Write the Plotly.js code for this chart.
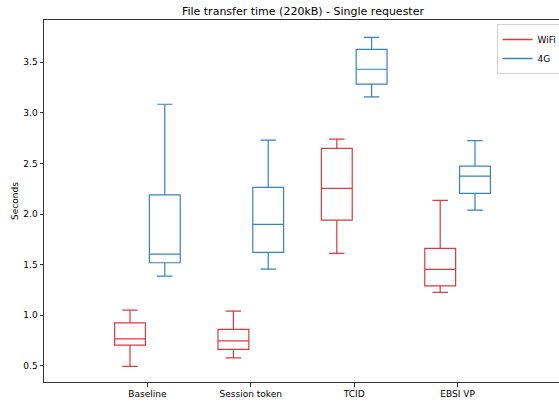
<!DOCTYPE html>
<html>
<head>
<meta charset="utf-8">
<script src="https://cdn.plot.ly/plotly-3.0.1.min.js"></script>
<style>html,body{margin:0;padding:0;overflow:hidden;background:#fff;}</style>
</head>
<body>
<div id="chart"></div>
<script>
const categories = ["Baseline", "Session token", "TCID", "EBSI VP"];

const wifiLower  = [0.493, 0.578, 1.610, 1.225];
const wifiQ1     = [0.704, 0.661, 1.940, 1.290];
const wifiMedian = [0.766, 0.746, 2.253, 1.452];
const wifiQ3     = [0.924, 0.859, 2.649, 1.660];
const wifiUpper  = [1.050, 1.040, 2.741, 2.135];

const g4Lower  = [1.386, 1.455, 3.157, 2.039];
const g4Q1     = [1.518, 1.621, 3.285, 2.204];
const g4Median = [1.604, 1.898, 3.431, 2.375];
const g4Q3     = [2.190, 2.264, 3.628, 2.474];
const g4Upper  = [3.085, 2.731, 3.747, 2.725];

const yTicks = [0.5, 1.0, 1.5, 2.0, 2.5, 3.0, 3.5];

const RED = "#e0383d";
const BLUE = "#3583c4";

const traces = [
  {type: "box", name: "WiFi", x: categories, q1: wifiQ1, median: wifiMedian, q3: wifiQ3,
   lowerfence: wifiLower, upperfence: wifiUpper, boxpoints: false, whiskerwidth: 0.5,
   line: {color: RED, width: 1.2}, fillcolor: "rgba(0,0,0,0)", showlegend: false, hoverinfo: "skip"},
  {type: "box", name: "4G", x: categories, q1: g4Q1, median: g4Median, q3: g4Q3,
   lowerfence: g4Lower, upperfence: g4Upper, boxpoints: false, whiskerwidth: 0.5,
   line: {color: BLUE, width: 1.2}, fillcolor: "rgba(0,0,0,0)", showlegend: false, hoverinfo: "skip"},
  {type: "scatter", mode: "lines", name: "WiFi", x: [null], y: [null], line: {color: RED, width: 1.5}},
  {type: "scatter", mode: "lines", name: "4G", x: [null], y: [null], line: {color: BLUE, width: 1.5}}
];

const layout = {
  width: 570, height: 403,
  margin: {l: 44, r: 7, t: 20, b: 21},
  paper_bgcolor: "#fff", plot_bgcolor: "#fff",
  font: {family: "DejaVu Sans", size: 9, color: "#000"},
  title: {text: "File transfer time (220kB) - Single requester", font: {size: 11, color: "#000"},
          x: 0.5315, xanchor: "center", y: 0.982, yanchor: "top", yref: "container"},
  boxmode: "group", boxgap: 0.327, boxgroupgap: 0.113,
  showlegend: true,
  legend: {x: 1.003, xanchor: "right", y: 0.989, yanchor: "top",
           bgcolor: "#fff", bordercolor: "#d0d0d0", borderwidth: 1,
           font: {size: 9}, itemwidth: 30, tracegroupgap: 0},
  xaxis: {type: "category", categoryorder: "array", categoryarray: categories,
          range: [-1, 4], showline: true, mirror: true, linecolor: "#333", linewidth: 1,
          ticks: "outside", ticklen: 3.5, tickcolor: "#333", showgrid: false, zeroline: false,
          tickfont: {size: 9}},
  yaxis: {range: [0.339, 3.918], tickvals: yTicks, ticktext: yTicks.map(v => v.toFixed(1)),
          showline: true, mirror: true, linecolor: "#333", linewidth: 1,
          ticks: "outside", ticklen: 3.5, tickcolor: "#333", showgrid: false, zeroline: false,
          tickfont: {size: 9}, title: {text: "Seconds", font: {size: 9}, standoff: 3}}
};

Plotly.newPlot("chart", traces, layout, {displayModeBar: false, staticPlot: true});
</script>
</body>
</html>
